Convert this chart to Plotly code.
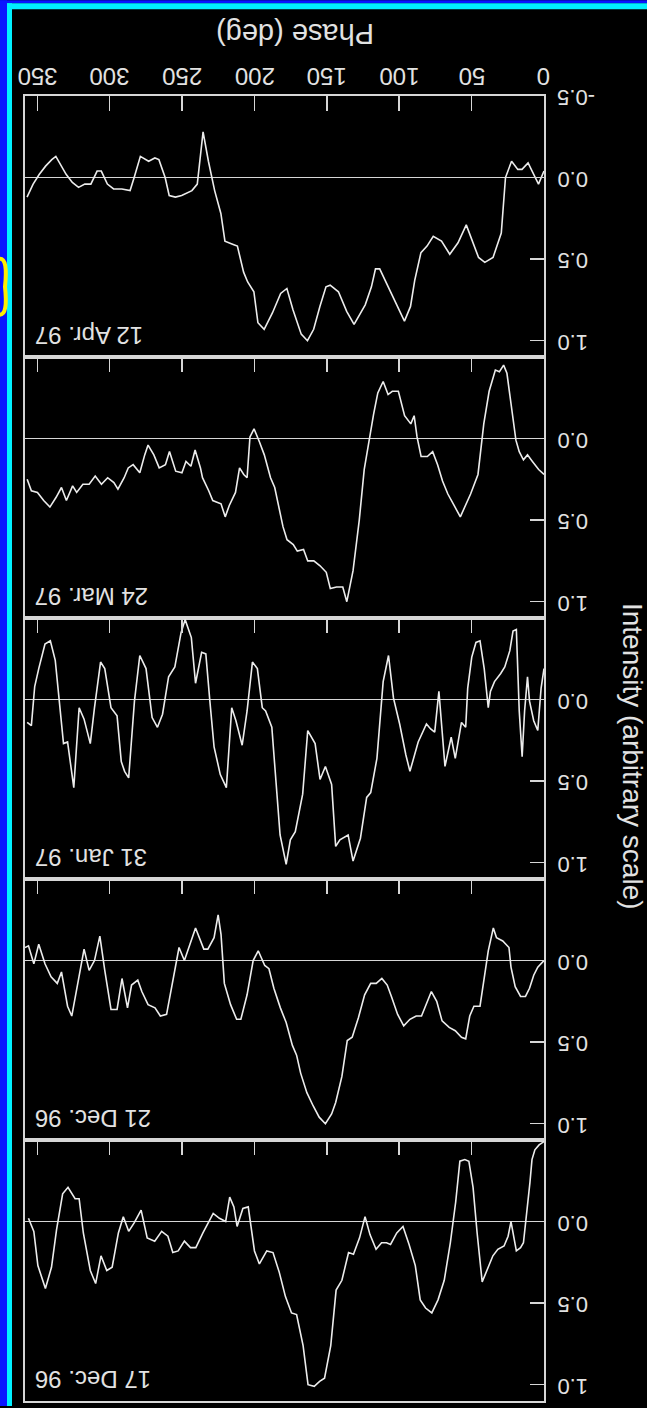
import plotly.graph_objects as go
from plotly.subplots import make_subplots

# ---------------- data ----------------
panel_labels = ["12 Apr. 97", "24 Mar. 97", "31 Jan. 97", "21 Dec. 96", "17 Dec. 96"]

phase_apr97 = [0, 3.8, 11.0, 15.2, 18.1, 22.4, 26.6, 29.5, 35.2, 40.9, 45.2, 48.0, 53.7, 59.4, 65.1, 70.8,
               76.5, 80.8, 85.0, 89.3, 92.2, 96.4, 102.1, 107.8, 113.5, 116.4, 119.2, 123.5, 127.8, 131.2,
               136.3, 142.0, 147.7, 150.6, 154.8, 159.1, 163.4, 167.7, 173.4, 177.6, 181.9, 187.6, 193.3,
               197.6, 200.4, 204.7, 207.5, 211.8, 214.7, 220.4, 223.2, 227.5, 231.8, 235.5, 239.5, 243.2,
               250.3, 254.6, 258.9, 261.7, 266.0, 268.8, 273.1, 278.8, 283.1, 285.9, 291.6, 297.3, 301.6,
               305.8, 308.7, 313.0, 317.2, 321.5, 325.8, 330.1, 337.2, 340.0, 344.3, 348.6, 352.9, 357.1]
int_apr97 = [-0.04, 0.04, -0.09, -0.05, -0.05, -0.10, 0.0, 0.34, 0.49, 0.52, 0.49, 0.42, 0.29, 0.40, 0.47,
             0.39, 0.36, 0.42, 0.46, 0.63, 0.79, 0.88, 0.77, 0.67, 0.56, 0.56, 0.67, 0.78, 0.85, 0.90, 0.82,
             0.70, 0.66, 0.67, 0.79, 0.93, 1.00, 0.96, 0.81, 0.68, 0.71, 0.83, 0.93, 0.89, 0.70, 0.64, 0.58,
             0.42, 0.41, 0.39, 0.22, 0.08, -0.10, -0.28, 0.04, 0.08, 0.11, 0.12, 0.11, 0.0, -0.11, -0.12,
             -0.10, -0.13, 0.0, 0.08, 0.07, 0.07, 0.04, -0.04, -0.04, 0.04, 0.04, 0.06, 0.03, -0.02, -0.13,
             -0.11, -0.07, -0.02, 0.04, 0.12]

phase_mar97 = [0, 3.7, 8.0, 11.4, 14.2, 17.1, 19.4, 22.2, 25.6, 27.9, 30.8, 33.6, 37.9, 41.6, 45.6, 50.7,
               54.1, 57.8, 62.1, 66.4, 70.1, 73.5, 76.9, 80.6, 84.9, 87.7, 89.7, 92.0, 96.3, 100.6, 104.8,
               107.7, 111.1, 114.8, 117.7, 120.5, 124.2, 127.6, 131.9, 136.2, 139.0, 143.3, 147.6, 150.4,
               154.7, 159.0, 163.2, 166.1, 170.4, 173.2, 177.5, 180.3, 183.2, 186.0, 188.9, 193.2, 196.6,
               200.3, 203.1, 205.1, 207.4, 210.3, 213.1, 217.4, 220.2, 223.1, 225.9, 228.8, 231.6, 235.9,
               237.3, 241.0, 243.9, 247.3, 250.1, 254.4, 258.7, 261.5, 265.8, 269.5, 273.5, 275.8, 279.2,
               283.8, 287.2, 290.0, 294.3, 297.1, 301.4, 305.7, 310.0, 314.2, 318.5, 322.8, 325.6, 329.9,
               333.3, 337.0, 341.3, 345.6, 349.9, 354.1, 357.0]
int_mar97 = [0.22, 0.19, 0.14, 0.10, 0.13, 0.08, 0.01, -0.17, -0.40, -0.45, -0.41, -0.42, -0.29, -0.09, 0.22,
             0.34, 0.41, 0.48, 0.41, 0.34, 0.26, 0.16, 0.08, 0.11, 0.11, -0.01, -0.14, -0.09, -0.14, -0.29,
             -0.29, -0.27, -0.35, -0.28, -0.15, -0.01, 0.19, 0.50, 0.81, 1.00, 0.91, 0.91, 0.92, 0.82, 0.78,
             0.75, 0.75, 0.68, 0.69, 0.65, 0.62, 0.54, 0.42, 0.30, 0.24, 0.10, 0.02, -0.06, -0.01, 0.24, 0.22,
             0.18, 0.33, 0.41, 0.48, 0.40, 0.39, 0.38, 0.32, 0.24, 0.18, 0.07, 0.17, 0.14, 0.21, 0.20, 0.08,
             0.16, 0.18, 0.10, 0.04, 0.10, 0.21, 0.16, 0.18, 0.24, 0.31, 0.27, 0.24, 0.28, 0.23, 0.28, 0.28,
             0.33, 0.29, 0.38, 0.30, 0.36, 0.42, 0.38, 0.33, 0.32, 0.25]

phase_jan97 = [0, 2.0, 4.3, 7.1, 10.0, 11.4, 13.4, 15.1, 17.1, 19.1, 21.4, 23.6, 27.1, 29.9, 34.2, 37.0,
               38.5, 41.3, 44.2, 47.0, 49.9, 52.7, 54.1, 57.0, 61.3, 64.1, 68.4, 72.6, 75.5, 78.3, 81.2,
               86.9, 92.6, 95.4, 99.7, 104.0, 107.4, 111.1, 115.4, 119.7, 122.5, 126.8, 131.9, 135.3, 141.0,
               143.9, 146.7, 151.0, 154.7, 158.1, 163.2, 166.7, 171.8, 175.2, 178.1, 182.3, 188.0, 192.3,
               194.6, 198.0, 201.4, 205.1, 208.5, 212.8, 215.7, 219.4, 223.6, 227.9, 230.8, 233.6, 236.5,
               240.7, 243.6, 247.9, 250.7, 255.0, 259.3, 263.5, 267.0, 270.7, 274.9, 279.2, 282.9, 286.9,
               289.7, 292.0, 294.9, 299.1, 303.4, 306.3, 310.5, 313.4, 317.7, 321.1, 324.8, 329.1, 331.9,
               334.8, 337.6, 341.0, 344.7, 349.0, 351.8, 354.1, 357.0]
int_jan97 = [-0.19, -0.07, 0.19, 0.13, 0.01, -0.14, 0.07, 0.35, 0.07, -0.43, -0.42, -0.30, -0.20, -0.16,
             -0.11, -0.05, 0.05, -0.19, -0.36, -0.35, -0.26, -0.07, 0.17, 0.14, 0.36, 0.23, 0.41, -0.05,
             0.20, 0.18, 0.15, 0.26, 0.44, 0.34, 0.15, -0.01, -0.27, -0.11, 0.36, 0.57, 0.60, 0.85, 0.99,
             0.83, 0.86, 0.90, 0.52, 0.41, 0.49, 0.27, 0.19, 0.58, 0.81, 0.86, 1.01, 0.83, 0.17, 0.07, 0.05,
             -0.19, -0.23, 0.07, 0.28, 0.13, 0.05, 0.54, 0.46, 0.29, 0.01, -0.28, -0.29, -0.10, -0.38, -0.49,
             -0.41, -0.20, -0.14, 0.09, 0.17, 0.11, -0.19, -0.27, 0.01, 0.48, 0.44, 0.38, 0.10, 0.05, -0.19,
             -0.23, 0.05, 0.27, 0.12, 0.05, 0.54, 0.26, 0.27, 0.01, -0.24, -0.36, -0.34, -0.19, -0.08, 0.16,
             0.14]

phase_dec21 = [0, 4.3, 7.1, 10.0, 12.8, 16.2, 19.9, 22.8, 24.2, 28.5, 32.8, 35.0, 38.5, 41.9, 44.2, 48.4,
               51.3, 54.1, 57.0, 61.3, 65.5, 70.4, 74.1, 77.8, 81.2, 84.6, 88.3, 92.6, 96.9, 101.1, 105.4,
               108.3, 112.0, 115.9, 119.7, 123.9, 128.2, 132.5, 135.9, 139.6, 143.9, 146.7, 151.0, 155.3,
               159.5, 163.8, 168.1, 170.9, 173.8, 178.1, 182.1, 186.6, 190.0, 192.9, 197.4, 200.9, 205.1,
               209.4, 212.3, 216.5, 220.8, 223.1, 225.1, 227.9, 232.2, 235.0, 240.7, 245.0, 248.4, 252.1,
               255.6, 260.7, 265.0, 268.7, 273.5, 277.8, 280.6, 284.9, 287.7, 291.5, 294.9, 299.1, 303.4,
               306.8, 310.5, 314.2, 317.7, 322.0, 326.2, 329.1, 333.3, 336.2, 340.5, 344.7, 349.0, 352.4,
               356.1, 358.5]
int_dec21 = [0.0, 0.04, 0.09, 0.17, 0.22, 0.22, 0.16, 0.04, -0.08, -0.12, -0.14, -0.20, -0.06, 0.13, 0.28,
             0.28, 0.34, 0.48, 0.47, 0.43, 0.41, 0.37, 0.25, 0.19, 0.26, 0.34, 0.34, 0.36, 0.40, 0.33, 0.22,
             0.15, 0.11, 0.14, 0.14, 0.21, 0.35, 0.47, 0.49, 0.71, 0.87, 0.94, 1.00, 0.96, 0.89, 0.81, 0.69,
             0.58, 0.52, 0.38, 0.29, 0.17, 0.05, 0.03, -0.06, 0.0, 0.21, 0.36, 0.36, 0.27, 0.14, -0.16, -0.28,
             -0.14, -0.07, -0.07, -0.20, -0.08, 0.0, -0.08, 0.08, 0.33, 0.34, 0.29, 0.27, 0.19, 0.12, 0.15,
             0.29, 0.11, 0.30, 0.30, 0.06, -0.15, 0.0, 0.06, -0.07, 0.15, 0.34, 0.28, 0.07, 0.14, 0.10, 0.02,
             -0.10, 0.02, -0.09, -0.08]

phase_dec17 = [0, 3.4, 6.3, 8.3, 9.7, 12.0, 14.2, 16.2, 19.1, 22.8, 24.8, 27.6, 31.9, 35.3, 39.0, 42.7,
               46.2, 49.0, 51.9, 54.7, 58.1, 61.0, 64.7, 68.9, 73.2, 77.5, 81.8, 85.5, 88.9, 93.2, 97.4,
               101.7, 106.0, 108.8, 112.2, 116.0, 120.2, 123.6, 127.4, 131.6, 135.0, 139.6, 143.6, 147.3,
               151.6, 155.0, 158.7, 163.0, 166.4, 170.9, 174.4, 178.6, 182.9, 187.2, 191.5, 196.6, 200.0,
               204.3, 208.0, 212.0, 214.2, 217.1, 219.9, 224.2, 228.5, 232.8, 235.6, 240.5, 244.2, 248.4,
               252.7, 256.4, 259.8, 264.1, 268.9, 274.1, 278.3, 283.2, 286.9, 290.6, 294.0, 298.3, 302.0,
               306.0, 309.7, 313.4, 318.2, 321.1, 323.9, 328.8, 332.5, 336.7, 340.2, 344.4, 349.6, 352.4,
               356.1]
int_dec17 = [-0.49, -0.47, -0.44, -0.38, -0.24, -0.03, 0.13, 0.16, 0.18, 0.0, 0.09, 0.15, 0.17, 0.21, 0.29,
             0.37, 0.07, -0.21, -0.37, -0.38, -0.37, -0.12, 0.13, 0.36, 0.48, 0.56, 0.53, 0.48, 0.27, 0.14,
             0.03, 0.07, 0.14, 0.13, 0.13, 0.17, 0.08, -0.03, 0.10, 0.20, 0.19, 0.36, 0.42, 0.76, 0.96, 0.98,
             1.01, 1.00, 0.76, 0.57, 0.56, 0.46, 0.31, 0.19, 0.18, 0.26, 0.18, -0.09, -0.08, 0.03, -0.09,
             -0.15, 0.0, -0.02, -0.05, 0.02, 0.07, 0.16, 0.16, 0.12, 0.18, 0.19, 0.09, 0.06, 0.12, 0.10,
             -0.07, 0.01, 0.06, -0.03, 0.07, 0.28, 0.30, 0.21, 0.38, 0.30, 0.07, -0.14, -0.14, -0.21, -0.17,
             0.05, 0.28, 0.41, 0.27, 0.06, -0.02]

phase_ticks = [0, 50, 100, 150, 200, 250, 300, 350]
phase_tick_text = ["0", "50", "100", "150", "200", "250", "300", "350"]
int_ticks_top = [-0.5, 0.0, 0.5, 1.0]
int_ticks_top_text = ["-0.5", "0.0", "0.5", "1.0"]
int_ticks = [0.0, 0.5, 1.0]
int_ticks_text = ["0.0", "0.5", "1.0"]

phases = [phase_apr97, phase_mar97, phase_jan97, phase_dec21, phase_dec17]
intensities = [int_apr97, int_mar97, int_jan97, int_dec21, int_dec17]

# ---------------- layout helpers ----------------
W, H = 647, 1408
ML, MR, MT, MB = 25, 103, 96, 5
PW, PH = W - ML - MR, H - MT - MB


def px2x(px):
    return (px - ML) / PW


def py2y(py):
    return (H - MB - py) / PH


FONT = "Liberation Sans, Arial, Helvetica, sans-serif"
FG = "#e2e2e2"
LINE = "#d6d6d6"

fig = make_subplots(rows=5, cols=1, vertical_spacing=0)

for i in range(5):
    fig.add_trace(go.Scatter(x=phases[i], y=intensities[i], mode="lines",
                             line=dict(color="#ececec", width=1.6),
                             showlegend=False, hoverinfo="skip"), row=i + 1, col=1)
    fig.update_xaxes(range=[358.5, 0], side="top", ticks="inside", ticklen=15, tickwidth=1.6,
                     tickcolor=LINE, tickvals=phase_ticks[1:], showticklabels=False,
                     showline=True, mirror=True, linecolor=LINE, linewidth=2,
                     showgrid=False, zeroline=False, fixedrange=True, row=i + 1, col=1)
    fig.update_yaxes(range=[1.1, -0.5], side="right", ticks="inside", ticklen=14, tickwidth=1.6,
                     tickcolor=LINE, tickvals=int_ticks, showticklabels=False,
                     showline=True, mirror=True, linecolor=LINE, linewidth=2,
                     showgrid=False, zeroline=True, zerolinecolor=LINE, zerolinewidth=1.6,
                     fixedrange=True, row=i + 1, col=1)

annotations = []
# upside-down phase tick labels on top of the first panel
for v, t in zip(phase_ticks, phase_tick_text):
    annotations.append(dict(text=t, xref="x", yref="paper", x=v, y=py2y(77),
                            xanchor="center", yanchor="middle", textangle=180, showarrow=False,
                            font=dict(family=FONT, size=24, color=FG)))
# upside-down intensity tick labels on the right of every panel
for i in range(5):
    yref = "y" if i == 0 else f"y{i + 1}"
    tv = int_ticks_top if i == 0 else int_ticks
    tt = int_ticks_top_text if i == 0 else int_ticks_text
    for v, t in zip(tv, tt):
        annotations.append(dict(text=t, xref="paper", yref=yref, x=px2x(555), y=v, yshift=-2,
                                xanchor="left", yanchor="middle", textangle=180, showarrow=False,
                                font=dict(family=FONT, size=22, color=FG)))
# panel date labels
for i, lab in enumerate(panel_labels):
    y_bottom = 0.8 - 0.2 * i
    annotations.append(dict(text=lab, xref="paper", yref="paper", x=px2x(33), y=y_bottom + 21 / PH,
                            xanchor="left", yanchor="middle", textangle=180, showarrow=False,
                            font=dict(family=FONT, size=24, color=FG)))
annotations.append(dict(text="Phase (deg)", xref="paper", yref="paper", x=px2x(295), y=py2y(34),
                        xanchor="center", yanchor="middle", textangle=180, showarrow=False,
                        font=dict(family=FONT, size=29, color=FG)))
annotations.append(dict(text="Intensity (arbitrary scale)", xref="paper", yref="paper",
                        x=px2x(632), y=py2y(757), xanchor="center", yanchor="middle", textangle=90,
                        showarrow=False, font=dict(family=FONT, size=28, color=FG)))

shapes = [
    dict(type="rect", xref="paper", yref="paper", x0=px2x(0), x1=px2x(W), y0=py2y(3), y1=py2y(0),
         fillcolor="#0a14ff", line=dict(width=0), layer="above"),
    dict(type="rect", xref="paper", yref="paper", x0=px2x(0), x1=px2x(7), y0=py2y(H), y1=py2y(0),
         fillcolor="#0a14ff", line=dict(width=0), layer="above"),
    dict(type="rect", xref="paper", yref="paper", x0=px2x(7), x1=px2x(W), y0=py2y(9), y1=py2y(3),
         fillcolor="#00f0ff", line=dict(width=0), layer="above"),
    dict(type="rect", xref="paper", yref="paper", x0=px2x(7), x1=px2x(12), y0=py2y(H), y1=py2y(3),
         fillcolor="#00f0ff", line=dict(width=0), layer="above"),
    dict(type="path", xref="paper", yref="paper", layer="above",
         path=(f"M {px2x(0)} {py2y(259)} Q {px2x(8)} {py2y(259)} {px2x(5)} {py2y(287)} "
               f"Q {px2x(8)} {py2y(315)} {px2x(0)} {py2y(315)}"),
         line=dict(color="#ffee00", width=4)),
]

fig.update_layout(width=W, height=H, margin=dict(l=ML, r=MR, t=MT, b=MB),
                  paper_bgcolor="black", plot_bgcolor="black", hovermode=False,
                  annotations=annotations, shapes=shapes, showlegend=False)

fig.write_html("out.html", config={"displayModeBar": False, "staticPlot": True},
               post_script="document.body.style.margin='0';document.body.style.overflow='hidden';"
                           "document.body.style.background='black';")
